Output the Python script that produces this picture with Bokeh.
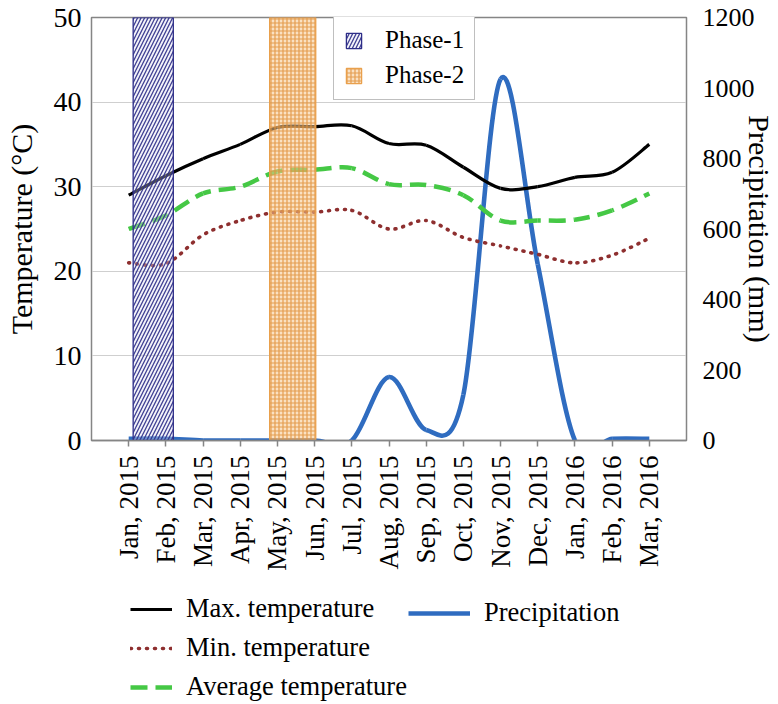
from math import pi, hypot
from bokeh.plotting import figure
from bokeh.layouts import column
from bokeh.models import (Range1d, LinearAxis, FixedTicker, Legend, LegendItem,
                          ColumnDataSource)
from bokeh.embed import file_html
from bokeh.resources import INLINE

# ---------------- data ----------------
months = ["Jan, 2015", "Feb, 2015", "Mar, 2015", "Apr, 2015", "May, 2015",
          "Jun, 2015", "Jul, 2015", "Aug, 2015", "Sep, 2015", "Oct, 2015",
          "Nov, 2015", "Dec, 2015", "Jan, 2016", "Feb, 2016", "Mar, 2016"]
max_temp = [29.0, 31.3, 33.3, 35.0, 37.0, 37.1, 37.2, 35.1, 34.9, 32.3,
            29.8, 30.0, 31.1, 31.7, 35.0]
min_temp = [21.0, 20.9, 24.3, 26.0, 27.0, 27.0, 27.2, 25.0, 26.0, 24.0,
            23.0, 22.0, 21.0, 21.9, 23.9]
avg_temp = [25.0, 26.6, 29.2, 30.0, 31.8, 32.0, 32.2, 30.3, 30.2, 29.0,
            26.0, 26.0, 26.1, 27.2, 29.2]
precipitation = [5, 5, 0, 0, 0, 0, 0, 180, 30, 130, 1025, 500, 0, 5, 5]
phase_labels = ["Phase-1", "Phase-2"]
phase_start = [0.12, 3.79]   # in month-index units
phase_end = [1.20, 5.03]
temp_ticks = [0, 10, 20, 30, 40, 50]
precip_ticks = [0, 200, 400, 600, 800, 1000, 1200]
series_labels = ["Max. temperature", "Min. temperature", "Average temperature",
                 "Precipitation"]

# ---------------- layout / style ----------------
FONT = "Liberation Serif"
W, H = 778, 704
MAIN_H = 590
BL, BR, BT, BB = 91, 86, 17, 150
FW, FH = W - BL - BR, MAIN_H - BT - BB
X0, X1 = -1, 15
PX_X = FW / (X1 - X0)
PX_T = FH / 50.0
PX_P = FH / 1200.0

x_idx = list(range(len(months)))

p = figure(width=W, height=MAIN_H, output_backend="svg", toolbar_location=None,
           x_range=Range1d(X0, X1), y_range=Range1d(0, 50),
           min_border_left=BL, min_border_right=BR,
           min_border_top=BT, min_border_bottom=BB,
           background_fill_color="white", border_fill_color="white")
p.extra_y_ranges = {"precip": Range1d(0, 1200)}
p.outline_line_color = "#858585"
p.outline_line_width = 1.5

p.xgrid.visible = False
p.ygrid.grid_line_color = "#cfcfcf"
p.ygrid.grid_line_width = 1
p.ygrid.ticker = FixedTicker(ticks=temp_ticks)

# x axis
xa = p.xaxis[0]
xa.ticker = FixedTicker(ticks=x_idx)
xa.major_label_overrides = {i: m for i, m in enumerate(months)}
xa.major_label_orientation = pi / 2
xa.major_label_text_font = FONT
xa.major_label_text_font_size = "27px"
xa.major_label_text_color = "black"
xa.major_label_standoff = 9
xa.major_tick_out = 6
xa.major_tick_in = 0
xa.minor_tick_out = 0
xa.minor_tick_in = 0
xa.axis_line_color = "#858585"
xa.axis_line_width = 1.5
xa.major_tick_line_color = "#858585"
xa.major_tick_line_width = 1.5

# left axis
ya = p.yaxis[0]
ya.ticker = FixedTicker(ticks=temp_ticks)
ya.major_label_text_font = FONT
ya.major_label_text_font_size = "28px"
ya.major_label_text_color = "black"
ya.major_label_standoff = 10
ya.major_tick_out = 0
ya.major_tick_in = 0
ya.minor_tick_out = 0
ya.minor_tick_in = 0
ya.axis_line_color = "#858585"
ya.axis_label = "Temperature (°C)"
ya.axis_label_text_font = FONT
ya.axis_label_text_font_size = "30px"
ya.axis_label_text_font_style = "normal"
ya.axis_label_text_color = "black"
ya.axis_label_standoff = 13

# right axis
ra = LinearAxis(y_range_name="precip", ticker=FixedTicker(ticks=precip_ticks))
ra.major_label_text_font = FONT
ra.major_label_text_font_size = "26px"
ra.major_label_text_color = "black"
ra.major_label_standoff = 16
ra.major_tick_out = 0
ra.major_tick_in = 0
ra.minor_tick_out = 0
ra.minor_tick_in = 0
ra.axis_line_color = "#858585"
ra.axis_label = "Precipitation (mm)"
ra.axis_label_text_font = FONT
ra.axis_label_text_font_size = "30px"
ra.axis_label_text_font_style = "normal"
ra.axis_label_text_color = "black"
ra.axis_label_standoff = -15
p.add_layout(ra, "right")


def smooth_source(xs, ys, sy, period):
    """Catmull-Rom style Bezier control points from the data points."""
    n = len(xs)
    d = {k: [] for k in ("x0", "y0", "x1", "y1", "cx0", "cy0", "cx1", "cy1", "off")}
    acc = 0.0
    for i in range(n - 1):
        xa_, ya_ = (xs[i - 1], ys[i - 1]) if i > 0 else (xs[i], ys[i])
        xb, yb = xs[i], ys[i]
        xc, yc = xs[i + 1], ys[i + 1]
        xd, yd = (xs[i + 2], ys[i + 2]) if i + 2 < n else (xc, yc)
        c0x, c0y = xb + (xc - xa_) / 6.0, yb + (yc - ya_) / 6.0
        c1x, c1y = xc - (xd - xb) / 6.0, yc - (yd - yb) / 6.0
        d["x0"].append(xb); d["y0"].append(yb)
        d["x1"].append(xc); d["y1"].append(yc)
        d["cx0"].append(c0x); d["cy0"].append(c0y)
        d["cx1"].append(c1x); d["cy1"].append(c1y)
        d["off"].append(int(round(acc % period)) if period else 0)
        L, prev = 0.0, None
        for k in range(31):
            t = k / 30.0
            bx = (1 - t) ** 3 * xb + 3 * (1 - t) ** 2 * t * c0x + 3 * (1 - t) * t * t * c1x + t ** 3 * xc
            by = (1 - t) ** 3 * yb + 3 * (1 - t) ** 2 * t * c0y + 3 * (1 - t) * t * t * c1y + t ** 3 * yc
            pt = (bx * PX_X, by * sy)
            if prev is not None:
                L += hypot(pt[0] - prev[0], pt[1] - prev[1])
            prev = pt
        acc += L
    return ColumnDataSource(d)


BEZ = dict(x0="x0", y0="y0", x1="x1", y1="y1", cx0="cx0", cy0="cy0", cx1="cx1", cy1="cy1")

styles = [
    dict(line_color="black", line_width=3.2),
    dict(line_color="#8e2f2f", line_width=3.6, line_dash="1 7", line_cap="round"),
    dict(line_color="#45c845", line_width=4.5, line_dash="17 8"),
    dict(line_color="#2f6cc0", line_width=4.6),
]
series_values = [max_temp, min_temp, avg_temp, precipitation]

p.bezier(source=smooth_source(x_idx, precipitation, PX_P, 0), y_range_name="precip",
         **BEZ, **styles[3])
p.bezier(source=smooth_source(x_idx, min_temp, PX_T, 8), line_dash_offset="off",
         **BEZ, **styles[1])
p.bezier(source=smooth_source(x_idx, avg_temp, PX_T, 25), line_dash_offset="off",
         **BEZ, **styles[2])
p.bezier(source=smooth_source(x_idx, max_temp, PX_T, 0), **BEZ, **styles[0])

# phase bars (drawn over the lines, translucent)
q1 = p.quad(left=[phase_start[0]], right=[phase_end[0]], bottom=[0], top=[50],
            fill_color="#dcdcf2", fill_alpha=0.35,
            hatch_pattern="right_diagonal_line", hatch_color="#2d2d88",
            hatch_scale=7, hatch_weight=1.3, hatch_alpha=0.9,
            line_color="#2d2d88", line_width=1.3)
q2 = p.quad(left=[phase_start[1]], right=[phase_end[1]], bottom=[0], top=[50],
            fill_color="#f5c98f", fill_alpha=0.55,
            hatch_pattern="cross", hatch_color="#e0903a",
            hatch_scale=4, hatch_weight=1.2, hatch_alpha=0.85,
            line_color="#e9a04c", line_width=1.3)

top_legend = Legend(items=[LegendItem(label=phase_labels[0], renderers=[q1]),
                           LegendItem(label=phase_labels[1], renderers=[q2])],
                    location=(242, 340))
top_legend.border_line_color = "#7f7f7f"
top_legend.border_line_width = 1.5
top_legend.background_fill_color = "white"
top_legend.background_fill_alpha = 1
top_legend.label_text_font = FONT
top_legend.label_text_font_size = "25px"
top_legend.label_text_color = "black"
top_legend.glyph_width = 19
top_legend.glyph_height = 19
top_legend.label_standoff = 22
top_legend.padding = 10
top_legend.spacing = 7
top_legend.margin = 0
p.add_layout(top_legend)

# ---------------- series legend in its own strip below ----------------
# (its frame is aligned with the main frame: x from 91 to 692)
lf = figure(width=W, height=H - MAIN_H, output_backend="svg", toolbar_location=None,
            x_range=Range1d(0, 1), y_range=Range1d(-2, -1), min_border=0,
            x_axis_location=None, y_axis_location=None,
            background_fill_color="white", border_fill_color="white")
lf.outline_line_color = None
lf.grid.visible = False
# proxies: the real series, all outside this strip's visible range
proxies = [lf.line(x=x_idx, y=v, **s) for v, s in zip(series_values, styles)]


def make_legend(items, loc, gw):
    lg = Legend(items=items, location=loc, orientation="vertical")
    lg.border_line_alpha = 0
    lg.background_fill_alpha = 0
    lg.label_text_font = FONT
    lg.label_text_font_size = "26.5px"
    lg.label_text_color = "black"
    lg.glyph_width = gw
    lg.glyph_height = 20
    lg.label_height = 29
    lg.label_standoff = 14
    lg.padding = 2
    lg.spacing = 8
    lg.margin = 0
    return lg


leg_a = make_legend([LegendItem(label=lab, renderers=[r])
                     for lab, r in zip(series_labels[:3], proxies[:3])], (37, 0), 42)
leg_b = make_legend([LegendItem(label=series_labels[3], renderers=[proxies[3]])],
                    (315, 74), 62)
lf.add_layout(leg_a)
lf.add_layout(leg_b)

layout = column(p, lf, spacing=0)
open("out.html", "w").write(file_html(layout, INLINE))
